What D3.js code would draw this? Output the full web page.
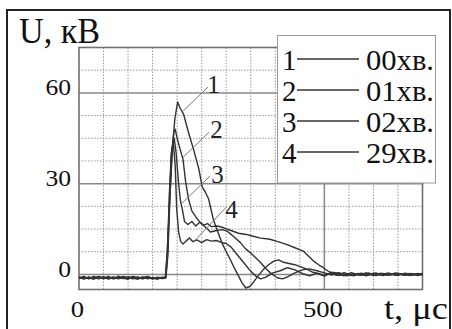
<!DOCTYPE html>
<html>
<head>
<meta charset="utf-8">
<script src="https://cdn.jsdelivr.net/npm/d3@7"></script>
<style>
  body { margin: 0; background: #fff; }
  svg { display: block; }
  text { font-family: "Liberation Serif", "Times New Roman", "DejaVu Serif", serif; }
</style>
</head>
<body>
<svg id="chart" width="452" height="329"></svg>
<script>
// pulse waveforms, [t (мкс), U (кВ)]
const curve00 = [
  [0,-1.0],[10,-1.6],[20,-0.8],[30,-1.3],[40,-0.7],[50,-1.5],[60,-1.0],[70,-1.4],[80,-0.6],[90,-1.2],
  [100,-1.6],[110,-0.9],[120,-1.3],[130,-0.8],[140,-1.5],[150,-1.0],[160,-1.3],[170,-0.9],[176,-1.0],
  [180,8],[185,25],[190,40],[195,51],[201,57],[206,55],[213,53],[223,47],[234,41],[244,35],[251,29],
  [258,27],[264,25],[274,18],[283,14],[291,10.5],[300,7.5],[308,5],[317,2],[325,-0.5],[333,-3],
  [340,-4.5],[348,-4],[356,-2.5],[365,-0.5],[375,1.5],[385,3],[397,4.4],[407,4.8],[417,4],[428,3.6],
  [440,3.2],[452,2.5],[463,1.8],[475,0.8],[488,0.2],[500,-0.6],[512,0.4],[525,-0.3],[540,0.6],
  [555,-0.4],[570,0.3],[585,-0.5],[600,0.4],[615,-0.2],[630,0.5],[645,-0.3],[660,0.2],[675,-0.4],
  [690,0.3],[700,0.1]
];
const curve01 = [
  [0,-1.4],[10,-0.9],[20,-1.5],[30,-0.7],[40,-1.2],[50,-0.8],[60,-1.6],[70,-1.0],[80,-1.3],[90,-0.7],
  [100,-1.1],[110,-1.5],[120,-0.8],[130,-1.4],[140,-1.0],[150,-1.6],[160,-0.9],[170,-1.2],[177,-1.1],
  [181,6],[185,24],[189,40],[193,47],[196,48],[200,45],[205,42],[212,38],[217,31],[223,25],[230,21],
  [238,19],[245,17.5],[255,16],[268,14],[280,14.5],[292,14.8],[302,14.3],[315,12.5],[329,10.5],
  [339,8.5],[349,7.2],[360,5.5],[370,3.9],[380,2],[390,0.5],[404,-1.1],[415,-1.5],[425,-0.8],
  [440,0.5],[455,1.5],[470,1.8],[485,1.2],[500,0.5],[515,-0.2],[530,0.6],[545,-0.5],[560,0.2],
  [575,-0.3],[590,0.5],[605,-0.4],[620,0.3],[635,-0.2],[650,0.4],[665,-0.3],[680,0.2],[700,-0.2]
];
const curve02 = [
  [0,-0.8],[10,-1.3],[20,-1.1],[30,-1.6],[40,-0.9],[50,-1.2],[60,-0.7],[70,-1.5],[80,-1.1],[90,-1.4],
  [100,-0.8],[110,-1.2],[120,-1.6],[130,-1.0],[140,-0.7],[150,-1.3],[160,-1.1],[170,-1.4],[177,-1.0],
  [181,8],[185,28],[189,41],[194,45],[198,40],[203,30],[207,24],[210,22],[215,17.5],[222,16.5],
  [230,17.5],[238,16],[246,17.2],[254,16.3],[262,16.8],[270,15.8],[282,16],[295,15.4],[310,14.5],
  [325,13.6],[341,13.2],[355,12.6],[370,12],[389,11.6],[405,10.8],[423,9.9],[440,8.8],[457,7.7],
  [468,6],[478,4.4],[490,3],[498,2.2],[510,0.8],[526,0.5],[540,-0.5],[555,0.6],[570,-0.2],
  [585,0.5],[600,-0.4],[615,0.4],[630,-0.3],[645,0.5],[660,-0.2],[675,0.3],[690,-0.4],[700,0.2]
];
const curve29 = [
  [0,-1.2],[10,-0.7],[20,-1.4],[30,-1.0],[40,-1.5],[50,-0.9],[60,-1.3],[70,-0.8],[80,-1.5],[90,-1.0],
  [100,-1.3],[110,-0.7],[120,-1.1],[130,-1.5],[140,-0.9],[150,-1.2],[160,-1.6],[170,-1.0],[176,-1.3],
  [180,7],[184,26],[188,40],[192,44],[196,36],[199,22],[203,14],[207,11],[212,10],[218,11],
  [225,12],[232,10.8],[240,11.4],[250,10.5],[260,11.5],[270,11],[280,11.2],[290,10.6],[300,10.2],
  [310,9],[320,7],[330,5],[340,3],[350,1],[360,-0.5],[370,-1.5],[380,-1],[395,0.5],[410,1.2],
  [425,2.2],[440,1.5],[455,0.3],[470,-0.5],[485,0.4],[500,-0.3],[515,0.5],[530,-0.4],[545,0.3],
  [560,-0.5],[575,0.4],[590,-0.2],[605,0.5],[620,-0.4],[635,0.2],[650,-0.3],[665,0.4],[680,-0.2],[700,0.3]
];
const curves = [curve00, curve01, curve02, curve29];
const curveNums = ["1", "2", "3", "4"];
const legendLabels = ["00", "01", "02", "29"];
const legendUnit = "хв.";

const yTickValues = [0, 30, 60];
const xTickValues = [0, 500];
const yMinorStep = 7.5;
const xMinorStep = 50;

// label text position and leader line (from -> to), in data units
const curveTags = [
  { t: 274, U: 60.4, from: [263, 61.9], to: [212, 54] },
  { t: 280, U: 45.5, from: [265, 47], to: [212, 38.7] },
  { t: 282, U: 30.6, from: [267, 32.5], to: [208, 23.2] },
  { t: 311, U: 19.0, from: [300, 22.2], to: [237, 11.3] }
];

const svg = d3.select("#chart");

const x = d3.scaleLinear().domain([0, 700]).range([79, 422.5]);
const y = d3.scaleLinear().domain([-5, 75]).range([289.5, 47.5]);

// outer frame
svg.append("rect")
  .attr("x", 7).attr("y", 10).attr("width", 443).attr("height", 340)
  .attr("fill", "none").attr("stroke", "#222").attr("stroke-width", 2);

// minor dotted grid
const g = svg.append("g");
g.selectAll("line.vminor")
  .data(d3.range(xMinorStep, 700, xMinorStep).filter(v => v !== 500))
  .join("line")
  .attr("x1", d => x(d)).attr("x2", d => x(d))
  .attr("y1", y(75)).attr("y2", y(-5))
  .attr("stroke", "#999").attr("stroke-width", 1).attr("stroke-dasharray", "1.5,1.5");
g.selectAll("line.hminor")
  .data(d3.range(yMinorStep, 75, yMinorStep).filter(v => v % 30 !== 0))
  .join("line")
  .attr("x1", x(0)).attr("x2", x(700))
  .attr("y1", d => y(d)).attr("y2", d => y(d))
  .attr("stroke", "#999").attr("stroke-width", 1).attr("stroke-dasharray", "1.5,1.5");

// major solid grid
g.selectAll("line.hmajor")
  .data(yTickValues)
  .join("line")
  .attr("x1", x(0)).attr("x2", x(700))
  .attr("y1", d => y(d)).attr("y2", d => y(d))
  .attr("stroke", "#888").attr("stroke-width", 1.5);
g.append("line")
  .attr("x1", x(500)).attr("x2", x(500))
  .attr("y1", y(75)).attr("y2", y(-5))
  .attr("stroke", "#888").attr("stroke-width", 1.5);

// plot border
svg.append("rect")
  .attr("x", x(0)).attr("y", y(75))
  .attr("width", x(700) - x(0)).attr("height", y(-5) - y(75))
  .attr("fill", "none").attr("stroke", "#707070").attr("stroke-width", 1.6);

// curves
const line = d3.line().x(d => x(d[0])).y(d => y(d[1]));
svg.append("g").selectAll("path")
  .data(curves)
  .join("path")
  .attr("d", line)
  .attr("fill", "none").attr("stroke", "#333").attr("stroke-width", 1.4)
  .attr("stroke-linejoin", "round");

// curve tags with leader lines
svg.append("g").selectAll("line")
  .data(curveTags)
  .join("line")
  .attr("x1", d => x(d.from[0])).attr("y1", d => y(d.from[1]))
  .attr("x2", d => x(d.to[0])).attr("y2", d => y(d.to[1]))
  .attr("stroke", "#777").attr("stroke-width", 1);
svg.append("g").selectAll("text")
  .data(curveTags)
  .join("text")
  .attr("x", d => x(d.t)).attr("y", d => y(d.U) + 1)
  .attr("text-anchor", "middle")
  .attr("font-size", 25).attr("fill", "#222")
  .text((d, i) => curveNums[i]);

// axis labels
svg.append("g").selectAll("text")
  .data(yTickValues)
  .join("text")
  .attr("x", 71).attr("y", d => y(d) + 2.5)
  .attr("text-anchor", "end")
  .attr("font-size", 24).attr("fill", "#111")
  .attr("textLength", d => String(d).length * 12.8).attr("lengthAdjust", "spacingAndGlyphs")
  .text(d => d);
svg.append("g").selectAll("text")
  .data(xTickValues)
  .join("text")
  .attr("x", d => x(d) - 1.5).attr("y", 317)
  .attr("text-anchor", "middle")
  .attr("font-size", 24).attr("fill", "#111")
  .attr("textLength", d => String(d).length * 13.3).attr("lengthAdjust", "spacingAndGlyphs")
  .text(d => d);

svg.append("text")
  .attr("x", 19).attr("y", 43)
  .attr("font-size", 35).attr("fill", "#111")
  .attr("textLength", 81).attr("lengthAdjust", "spacingAndGlyphs")
  .text("U, кВ");
svg.append("text")
  .attr("x", 384).attr("y", 319)
  .attr("font-size", 31).attr("fill", "#111")
  .attr("textLength", 64).attr("lengthAdjust", "spacingAndGlyphs")
  .text("t, μс");

// legend
const legend = svg.append("g");
legend.append("rect")
  .attr("x", 277.5).attr("y", 35.5).attr("width", 158).attr("height", 147.5)
  .attr("fill", "#fff").attr("stroke", "#999").attr("stroke-width", 1);
const rows = legend.selectAll("g")
  .data(legendLabels)
  .join("g")
  .attr("transform", (d, i) => `translate(0,${70 + i * 31})`);
rows.append("text")
  .attr("x", 282).attr("y", 0)
  .attr("font-size", 29).attr("fill", "#111")
  .text((d, i) => curveNums[i]);
rows.append("line")
  .attr("x1", 297).attr("x2", 359).attr("y1", -11).attr("y2", -11)
  .attr("stroke", "#333").attr("stroke-width", 1.5);
rows.append("text")
  .attr("x", 366).attr("y", 0)
  .attr("font-size", 29).attr("fill", "#111")
  .attr("textLength", 68).attr("lengthAdjust", "spacingAndGlyphs")
  .text(d => d + legendUnit);
</script>
</body>
</html>
